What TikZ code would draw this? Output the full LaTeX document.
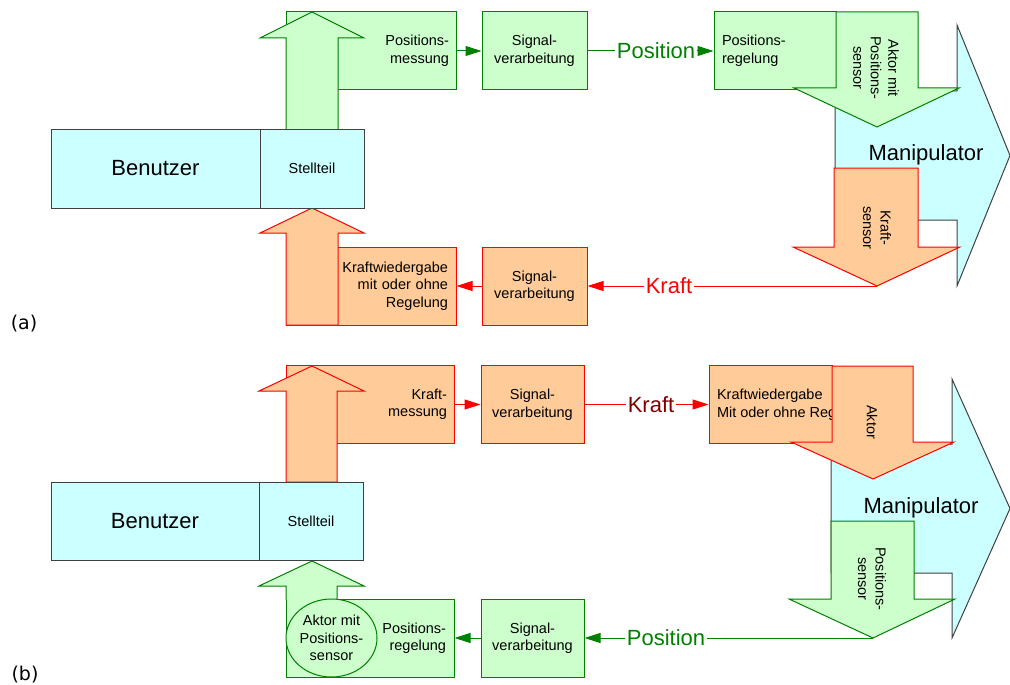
\documentclass[tikz,border=0pt]{standalone}
\usepackage{fontspec}
\setmainfont{Liberation Sans}
\newfontfamily\labelfamily{DejaVu Sans}
\usepackage{tikz}
\usetikzlibrary{
    arrows.meta,
    shapes.geometric
}
\definecolor{grnfill}{RGB}{204,255,204}
\definecolor{grnline}{RGB}{0,128,0}
\definecolor{orfill}{RGB}{255,204,153}
\definecolor{redline}{RGB}{255,0,0}
\definecolor{cyanfill}{RGB}{204,255,255}
\definecolor{darkred}{RGB}{128,0,0}
\newcommand{\blocktext}{\fontsize{14.5}{17.5}\selectfont}
\newcommand{\signaltext}{\fontsize{22}{26}\selectfont}
\newcommand{\labeltext}{\labelfamily\fontsize{19}{22}\selectfont}
\tikzstyle{gbox} = [
    rectangle,
    draw=grnline,
    fill=grnfill,
    minimum height=78pt,
    inner sep=0pt,
    font=\blocktext
]
\tikzstyle{obox} = [
    rectangle,
    draw=redline,
    fill=orfill,
    minimum height=78pt,
    inner sep=0pt,
    font=\blocktext
]
\tikzstyle{ubox} = [
    rectangle,
    draw=black!75,
    fill=cyanfill,
    minimum height=79pt,
    inner sep=0pt
]
\tikzstyle{gshape} = [draw=grnline, fill=grnfill, line join=miter]
\tikzstyle{oshape} = [draw=redline, fill=orfill, line join=miter]
\tikzstyle{manip} = [draw=black!75, fill=cyanfill, line join=miter]
\tikzstyle{garrow} = [
    -{Triangle[length=16pt,width=10pt]},
    draw=grnline
]
\tikzstyle{rarrow} = [
    -{Triangle[length=16pt,width=10pt]},
    draw=redline
]
\tikzstyle{inarrow} = [rotate=-90, align=center, inner sep=0pt, font=\blocktext]
\tikzstyle{sig} = [inner sep=1pt, font=\signaltext]

\begin{document}
\begin{tikzpicture}[x=1pt, y=-1pt, line width=1pt]
        \useasboundingbox (0,0) rectangle (1010,685);

        % ===== (a) =====
        % Manipulator
        \draw[manip] (835,91) -- (957,91) -- (957,25) -- (1010,155.5) -- (957,286) -- (957,220) -- (835,220) -- cycle;
        \node[font=\signaltext] (manA) at (926,155) {Manipulator};

        % Upper row: position path
        \node[gbox, minimum width=170pt, text width=156pt, align=right] (pmessA) at (371,51) {Positions-\\messung};
        \node[gbox, minimum width=105pt, align=center] (sigA1) at (534.5,51) {Signal-\\verarbeitung};
        \node[gbox, minimum width=122pt, text width=106pt, align=left] (pregA) at (775,51) {Positions-\\regelung};
        \draw[gshape] (286,130) -- (286,38) -- (260,38) -- (312,12) -- (364,38) -- (338,38) -- (338,130) -- cycle;
        \draw[gshape] (836,12) -- (836,88) -- (794,88) -- (877,127) -- (959,88) -- (918,88) -- (918,12) -- cycle;
        \node[inarrow] (aktA) at (876,68) {Aktor mit\\Positions-\\sensor};

        % Lower row: force path
        \node[obox, minimum width=170pt, text width=154pt, align=right] (kwA) at (371,286) {Kraftwiedergabe\\mit oder ohne\\Regelung};
        \node[obox, minimum width=105pt, align=center] (sigA2) at (534.5,286) {Signal-\\verarbeitung};
        \draw[oshape] (286,325) -- (286,233) -- (260,233) -- (312,208) -- (364,233) -- (338,233) -- (338,325) -- cycle;
        \draw[oshape] (834,168) -- (834,247) -- (793,247) -- (877,286) -- (960,247) -- (918,247) -- (918,168) -- cycle;
        \node[inarrow] (ksensA) at (877,228) {Kraft-\\sensor};
        \coordinate (ksTipA) at (877,286);

        % Benutzer
        \node[ubox, minimum width=209pt, font=\signaltext] (benA) at (155.5,168.5) {Benutzer};
        \node[ubox, minimum width=104pt, font=\blocktext] (stellA) at (312,168.5) {Stellteil};

        % Signals
        \node[sig, text=grnline] (posA) at (656,51) {Position};
        \node[sig, text=redline] (kraftA) at (669,286) {Kraft};
        \draw[garrow] (pmessA) -- (sigA1);
        \draw[grnline] (sigA1) -- (posA);
        \draw[garrow] (posA) -- (pregA);
        \draw[redline] (ksTipA) -- (kraftA);
        \draw[rarrow] (kraftA) -- (sigA2);
        \draw[rarrow] (sigA2) -- (kwA);
        \node[font=\labeltext] (labA) at (24,324) {(a)};

        % ===== (b) =====
        % Manipulator
        \draw[manip] (831,444) -- (952,444) -- (952,379) -- (1010,508.5) -- (952,638) -- (952,573) -- (831,573) -- cycle;
        \node[font=\signaltext] (manB) at (921,508) {Manipulator};

        % Upper row: force path
        \node[obox, minimum width=168pt, text width=154pt, align=right] (kmessB) at (370,404.5) {Kraft-\\messung};
        \node[obox, minimum width=103pt, align=center] (sigB1) at (532.5,404.5) {Signal-\\verarbeitung};
        \node[obox, minimum width=123pt] (kwB) at (770.5,404.5) {};
        \node[anchor=west, align=left, inner sep=0pt, font=\blocktext] (kwBtxt) at ([xshift=8pt]kwB.west) {Kraftwiedergabe\\Mit oder ohne Regelung};
        \draw[oshape] (286,482) -- (286,391) -- (259,391) -- (312,366) -- (364,391) -- (337,391) -- (337,482) -- cycle;
        \draw[oshape] (832,366) -- (832,442) -- (791,442) -- (873,479) -- (954,442) -- (913,442) -- (913,366) -- cycle;
        \node[inarrow] (aktB) at (872,422) {Aktor};

        % Lower row: position path
        \node[gbox, minimum width=168pt, text width=152pt, align=right] (pregB) at (370,638) {Positions-\\regelung};
        \node[gbox, minimum width=103pt, align=center] (sigB2) at (532.5,638) {Signal-\\verarbeitung};
        \draw[gshape] (286,600) -- (286,586) -- (259,586) -- (312,561) -- (364,586) -- (337,586) -- (337,600);
        \node[ellipse, draw=grnline, fill=grnfill, minimum width=91pt, minimum height=78pt, inner sep=0pt, align=center, font=\blocktext] (aktsB) at (331.5,638) {Aktor mit\\Positions-\\sensor};
        \draw[gshape] (831,521) -- (831,599) -- (789,599) -- (873,638) -- (955,599) -- (914,599) -- (914,521) -- cycle;
        \node[inarrow] (psensB) at (872,579) {Positions-\\sensor};
        \coordinate (psTipB) at (873,638);

        % Benutzer
        \node[ubox, minimum width=208pt, minimum height=78pt, font=\signaltext] (benB) at (155,521) {Benutzer};
        \node[ubox, minimum width=104pt, minimum height=78pt, font=\blocktext] (stellB) at (311,521) {Stellteil};

        % Signals
        \node[sig, text=darkred] (kraftB) at (651,404.5) {Kraft};
        \node[sig, text=grnline] (posB) at (666,638) {Position};
        \draw[rarrow] (kmessB) -- (sigB1);
        \draw[redline] (sigB1) -- (kraftB);
        \draw[rarrow] (kraftB) -- (kwB);
        \draw[grnline] (psTipB) -- (posB);
        \draw[garrow] (posB) -- (sigB2);
        \draw[garrow] (sigB2) -- (pregB);
        \node[font=\labeltext] (labB) at (25,675) {(b)};
    \end{tikzpicture}
\end{document}
